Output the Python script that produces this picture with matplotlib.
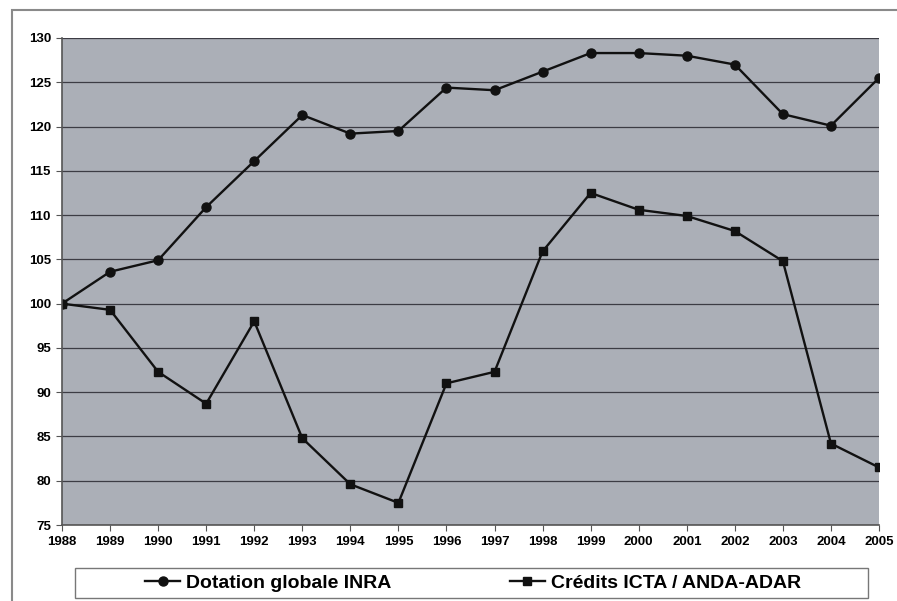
import numpy as np
import matplotlib
matplotlib.use("Agg")
import matplotlib.pyplot as plt
from matplotlib.patches import Rectangle

# donnees (base 100 en 1988)
years = list(range(1988, 2006))
inra = [100, 103.6, 104.9, 110.9, 116.1, 121.3, 119.2, 119.5, 124.4, 124.1,
        126.2, 128.3, 128.3, 128.0, 127.0, 121.4, 120.1, 125.5]
icta = [100, 99.3, 92.3, 88.7, 98.0, 84.8, 79.6, 77.5, 91.0, 92.3,
        105.9, 112.5, 110.6, 109.9, 108.2, 104.8, 84.2, 81.5]
yticks = list(range(75, 131, 5))
labels = ["Dotation globale INRA", "Crédits ICTA / ANDA-ADAR"]

plt.rcParams['font.family'] = ['Liberation Sans', 'DejaVu Sans']

fig = plt.figure(figsize=(8.97, 6.01), dpi=100)
fig.patch.set_facecolor("white")
# cadre gris autour du graphique
fig.patches.append(Rectangle((12 / 897, -0.01), 0.99, 1 - 10 / 601 + 0.01,
                             transform=fig.transFigure, fill=False,
                             edgecolor="#8a8a8a", linewidth=1.5))
# boite de la legende
fig.patches.append(Rectangle((75 / 897, 3 / 601), (868 - 75) / 897, 30 / 601,
                             transform=fig.transFigure, facecolor="white",
                             edgecolor="#777777", linewidth=1.0))

ax = fig.add_axes([62 / 897, 1 - 525 / 601, (879 - 62) / 897, (525 - 38) / 601])
ax.set_facecolor("#abafb7")
ax.plot(years, inra, color="#111111", lw=1.7, marker="o", ms=6.5, label=labels[0])
ax.plot(years, icta, color="#111111", lw=1.7, marker="s", ms=6, label=labels[1])

ax.set_xlim(1988, 2005)
ax.set_ylim(75, 130)
ax.set_xticks(years)
ax.set_yticks(yticks)
ax.grid(axis="y", color="#3c3c44", lw=0.9)
ax.set_axisbelow(True)
for s in ["top", "right"]:
    ax.spines[s].set_visible(False)
for s in ["left", "bottom"]:
    ax.spines[s].set_color("#555555")
    ax.spines[s].set_linewidth(1.2)
ax.tick_params(axis="both", labelsize=9.5, color="#555555", length=4, pad=4)
for t in ax.get_xticklabels() + ax.get_yticklabels():
    t.set_fontweight("bold")

fig.legend(loc="center", bbox_to_anchor=(473 / 897, 18 / 601),
           ncol=2, frameon=False, prop={"size": 14, "weight": "bold"},
           handlelength=1.8, handletextpad=0.3, borderaxespad=0, columnspacing=6.1)

fig.savefig("out.png", dpi=100)
